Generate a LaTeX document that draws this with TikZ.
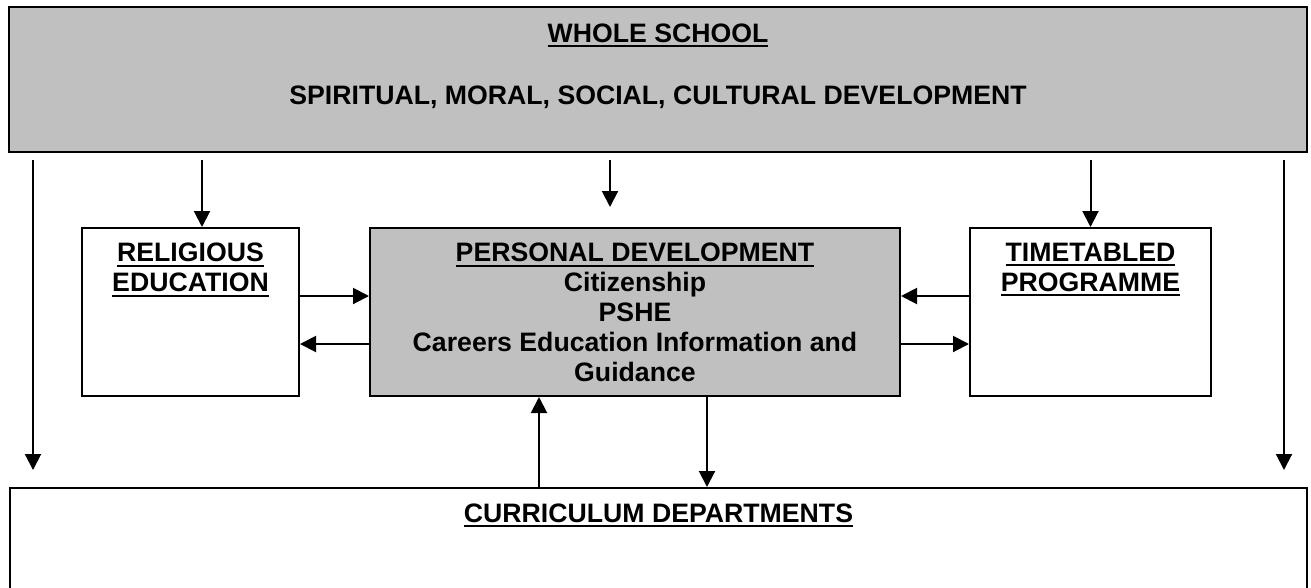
\documentclass[tikz,border=0pt]{standalone}
\usepackage{fontspec}
\setmainfont{Liberation Sans}
\usepackage{xcolor}
\usetikzlibrary{arrows.meta,calc}
\definecolor{boxgray}{HTML}{C0C0C0}
\newcommand{\heavyul}[1]{\leavevmode\setbox0=\hbox{#1}\rlap{\rule[-3.5pt]{\wd0}{1.5pt}}\box0}

\begin{document}
\begin{tikzpicture}[
  x=0.75pt, y=-0.75pt,
  box/.style={draw, line width=1.5pt, inner sep=0pt, anchor=north west},
  shaded/.style={box, fill=boxgray},
  heading/.style={font=\bfseries\fontsize{20}{22.5}\selectfont, align=center, inner sep=0pt},
  arr/.style={-{Triangle[length=12pt, width=12pt]}, line width=1.5pt}
]
\useasboundingbox (0,0) rectangle (1311,587);
\node[shaded, minimum width=973.5pt, minimum height=108.75pt] (whole) at (8,6) {};
\node[box, minimum width=162.75pt, minimum height=126pt] (relig) at (81,227) {};
\node[shaded, minimum width=397.5pt, minimum height=126pt] (pers) at (369,227) {};
\node[box, minimum width=180.75pt, minimum height=126pt] (timet) at (969,227) {};
\node[box, minimum width=972.75pt, minimum height=82.5pt] (curric) at (9,487) {};

\node[heading, anchor=base] (wholetitle) at ($(whole.north)+(0,36)$) {\heavyul{WHOLE SCHOOL}};
\node[heading, anchor=base] (smsc) at ($(whole.north)+(0,98)$)
    {SPIRITUAL, MORAL, SOCIAL, CULTURAL DEVELOPMENT};
\node[heading, anchor=north] (religtext) at ($(relig.north)+(0,16)$)
    {\heavyul{RELIGIOUS}\\\heavyul{EDUCATION}};
\node[heading, anchor=north] (perstext) at ($(pers.north)+(0,16)$)
    {\heavyul{PERSONAL DEVELOPMENT}\\Citizenship\\PSHE\\Careers Education Information and\\Guidance};
\node[heading, anchor=north] (timettext) at ($(timet.north)+(0,16)$)
    {\heavyul{TIMETABLED}\\\heavyul{PROGRAMME}};
\node[heading, anchor=base] (currictext) at ($(curric.north)+(0,35)$) {\heavyul{CURRICULUM DEPARTMENTS}};

\coordinate (persgap) at ($(pers.north)+(-25,-20)$);

\draw[arr] ($(whole.south west)+(25,7)$) -- ($(curric.north west)+(24,-17)$);
\draw[arr] ($(whole.south east)+(-24,7)$) -- ($(curric.north east)+(-24,-17)$);
\draw[arr] ($(whole.south -| relig.north)+(11.5,7)$) -- ($(relig.north)+(11.5,0)$);
\draw[arr] ($(whole.south -| persgap)+(0,7)$) -- (persgap);
\draw[arr] ($(whole.south -| timet.north)+(0,7)$) -- (timet.north);
\draw[arr] ($(relig.east)+(0,-16)$) -- ($(pers.west)+(0,-16)$);
\draw[arr] ($(pers.west)+(0,32)$) -- ($(relig.east)+(0,32)$);
\draw[arr] ($(timet.west)+(0,-16)$) -- ($(pers.east)+(0,-16)$);
\draw[arr] ($(pers.east)+(0,32)$) -- ($(timet.west)+(0,32)$);
\draw[arr] ($(curric.north -| pers.south)+(-96,0)$) -- ($(pers.south)+(-96,0)$);
\draw[arr] ($(pers.south)+(72,0)$) -- ($(curric.north -| pers.south)+(72,0)$);
\end{tikzpicture}
\end{document}
